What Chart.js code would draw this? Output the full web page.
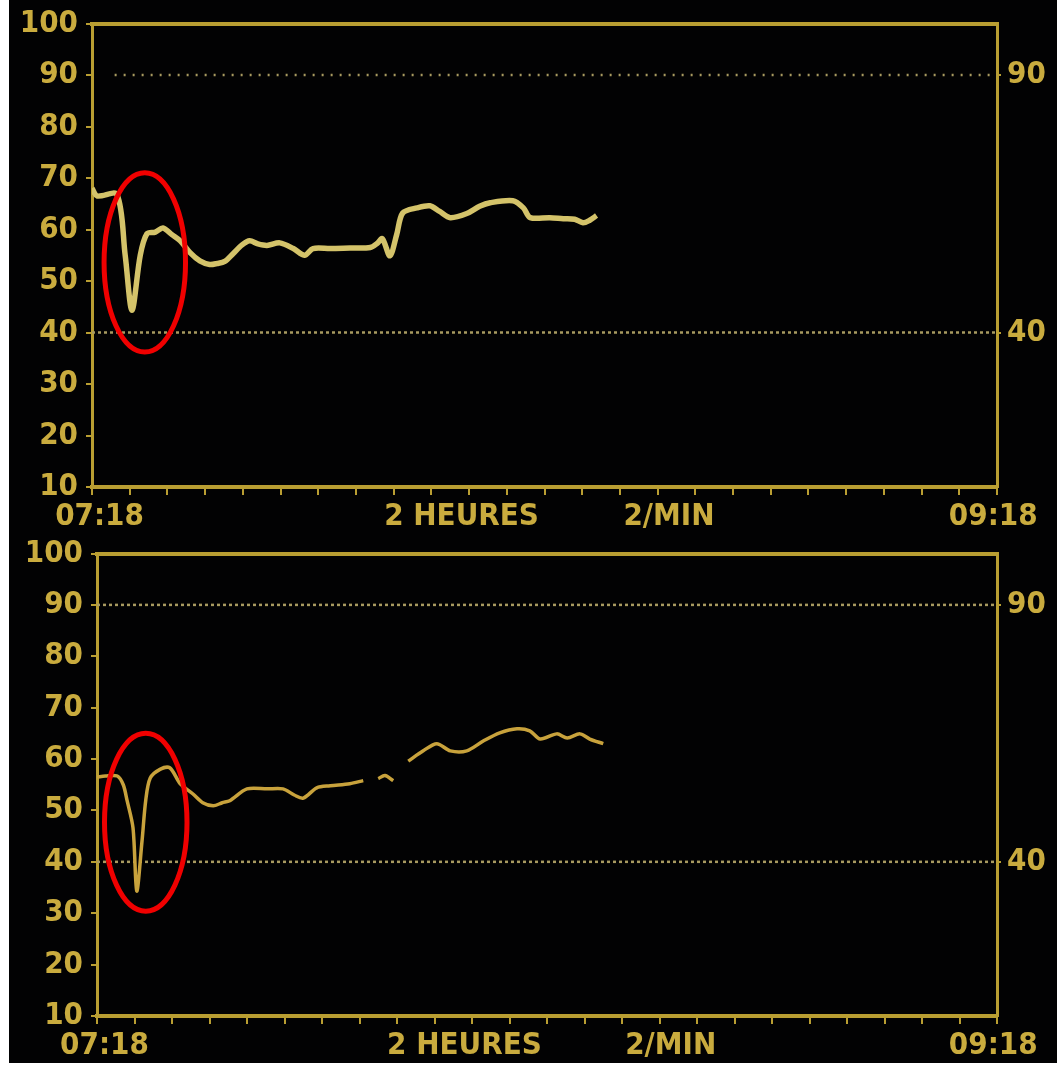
<!DOCTYPE html>
<html>
<head>
<meta charset="utf-8">
<title>Tendance SpO2</title>
<script src="https://cdn.jsdelivr.net/npm/chart.js@4.4.1/dist/chart.umd.min.js"></script>
<style>
  body { margin: 0; background: #fff; }
  #screen { position: absolute; left: 9px; top: 0; width: 1048px; height: 1063px; background: #020203; }
  .panel { position: absolute; left: 0; width: 1057px; }
  #top { top: 0; height: 540px; }
  #bottom { top: 530px; height: 537px; }
</style>
</head>
<body>
<div id="screen"></div>
<div class="panel" id="top"><canvas id="chart-top"></canvas></div>
<div class="panel" id="bottom"><canvas id="chart-bottom"></canvas></div>
<script>
// minutes since 07:18 (2 hour window)
const topMinutes = [0, 0.7, 3.3, 4.4, 5.3, 6.4, 7.3, 8.4, 9.4, 10.6, 11.7, 13.0, 14.3, 15.6, 16.6, 17.6, 18.7, 19.9, 20.9, 22.0, 23.2, 24.9, 26.7, 28.2, 29.3, 31.6, 34.2, 36.9, 37.8, 38.5, 39.5, 40.4, 41.2, 43.1, 44.8, 46.1, 47.5, 49.7, 51.4, 52.8, 55.8, 57.2, 58.1, 60.7, 62.5, 64.0, 65.1, 66.0, 66.9];
const topValues = [68, 66.5, 66.8, 55, 44.3, 55, 59.2, 59.5, 60.3, 59, 57.8, 55.5, 53.9, 53.2, 53.4, 53.8, 55.3, 57, 57.8, 57.2, 56.9, 57.4, 56.3, 55, 56.3, 56.3, 56.4, 56.5, 57.3, 58.2, 54.9, 59, 63.2, 64.2, 64.6, 63.5, 62.3, 63.1, 64.5, 65.2, 65.6, 64.2, 62.3, 62.3, 62.1, 62, 61.3, 61.8, 62.7];

const botMinutes = [0, 1.1, 2.7, 3.5, 4.0, 4.8, 5.3, 6.0, 6.5, 7.1, 8.4, 9.7, 11.1, 12.8, 14.1, 15.5, 16.7, 17.7, 20.0, 22.7, 24.8, 26.3, 27.5, 29.3, 31.1, 33.7, 35.5, 36.5, 37.5, 38.4, 39.5, 40.5, 41.5, 43.5, 45.3, 47.1, 49.3, 51.5, 53.7, 56.0, 57.7, 59.1, 61.3, 62.7, 64.4, 65.7, 67.5];
const botValues = [56.5, 56.7, 56.7, 55, 52, 46.6, 34.3, 44, 52, 56.3, 58, 58.3, 55.2, 53.2, 51.5, 50.9, 51.5, 51.9, 54.2, 54.2, 54.2, 53, 52.4, 54.4, 54.8, 55.2, 55.8, null, 56.2, 56.8, 55.8, null, 59.6, 61.6, 63, 61.6, 61.6, 63.5, 65.1, 65.9, 65.5, 63.9, 64.9, 64.1, 64.9, 63.9, 63];

// alarm limits
const alarmHigh = 90;
const alarmLow = 40;
const rightTicks = [90, 40];

// x axis labels
const xLabelAt = [1, 49, 76.5, 119.5];
const xLabelText = ['07:18', '2 HEURES', '2/MIN', '09:18'];

const yellow = '#b99e32';
const labelColor = '#c9ab3e';
const tickFont = { family: "'DejaVu Sans Condensed', 'DejaVu Sans', sans-serif", size: 31, weight: 'bold', lineHeight: 1 };

const ringPlugin = {
  id: 'ring',
  afterDatasetsDraw(chart, args, opts) {
    if (!opts || opts.cx === undefined) return;
    const { x, y } = chart.scales;
    const ctx = chart.ctx;
    const cx = x.getPixelForValue(opts.cx);
    const cy = y.getPixelForValue(opts.cy);
    const rx = Math.abs(x.getPixelForValue(opts.cx + opts.rx) - cx);
    const ry = Math.abs(y.getPixelForValue(opts.cy + opts.ry) - cy);
    ctx.save();
    ctx.beginPath();
    ctx.ellipse(cx, cy, rx, ry, 0, 0, Math.PI * 2);
    ctx.strokeStyle = '#f00000';
    ctx.lineWidth = 5;
    ctx.stroke();
    ctx.restore();
  }
};

function points(xs, ys) {
  return xs.map((m, i) => ({ x: m, y: ys[i] }));
}

function makePanel(id, box, trend, lineColor, lineWidth, highDash, highFrom, ring) {
  const datasets = [
    {
      data: points(trend[0], trend[1]),
      borderColor: lineColor,
      borderWidth: lineWidth,
      pointRadius: 0,
      tension: 0.3,
      spanGaps: false
    },
    {
      data: points([highFrom, 120], [alarmHigh, alarmHigh]),
      borderColor: '#a89a60',
      borderWidth: 2.5,
      borderDash: highDash,
      pointRadius: 0
    },
    {
      data: points([0, 120], [alarmLow, alarmLow]),
      borderColor: '#a89a60',
      borderWidth: 2.5,
      borderDash: [3, 3],
      pointRadius: 0
    }
  ];

  const config = {
    type: 'line',
    data: { datasets: datasets },
    plugins: [ringPlugin],
    options: {
      responsive: true,
      maintainAspectRatio: false,
      animation: false,
      layout: { padding: 0 },
      plugins: {
        legend: { display: false },
        tooltip: { enabled: false },
        ring: ring
      },
      scales: {
        x: {
          type: 'linear',
          position: 'bottom',
          min: 0,
          max: 120,
          afterBuildTicks: (scale) => {
            const t = [];
            for (let m = 0; m <= 120; m += 5) t.push({ value: m });
            xLabelAt.forEach(v => t.push({ value: v }));
            t.sort((a, b) => a.value - b.value);
            scale.ticks = t;
          },
          afterFit: (s) => { s.height = box.h - box.bottom; },
          ticks: {
            autoSkip: false,
            maxRotation: 0,
            padding: 6,
            color: labelColor,
            font: tickFont,
            callback: (v) => {
              const i = xLabelAt.indexOf(v);
              return i >= 0 ? xLabelText[i] : '';
            }
          },
          grid: {
            drawOnChartArea: false,
            tickLength: 8,
            lineWidth: 2,
            color: (c) => (c.tick && xLabelAt.includes(c.tick.value)) ? 'rgba(0,0,0,0)' : yellow
          },
          border: { color: yellow, width: 4 }
        },
        x2: {
          type: 'linear',
          position: 'top',
          min: 0,
          max: 120,
          afterFit: (s) => { s.height = box.top; },
          ticks: { display: false },
          grid: { display: false },
          border: { color: yellow, width: 4 }
        },
        y: {
          min: 10,
          max: 100,
          afterFit: (s) => { s.width = box.left; },
          ticks: { stepSize: 10, color: labelColor, font: tickFont, padding: 8 },
          grid: { drawOnChartArea: false, tickLength: 6, lineWidth: 2, color: yellow },
          border: { color: yellow, width: 3 }
        },
        y2: {
          position: 'right',
          min: 10,
          max: 100,
          afterBuildTicks: (scale) => {
            scale.ticks = rightTicks.map(v => ({ value: v }));
          },
          afterFit: (s) => { s.width = 1057 - box.right; },
          ticks: { color: labelColor, font: tickFont, padding: 6 },
          grid: { drawOnChartArea: false, tickLength: 4, lineWidth: 2, color: yellow },
          border: { color: yellow, width: 3 }
        }
      }
    }
  };

  const ctx = document.getElementById(id).getContext('2d');
  return new Chart(ctx, config);
}

window.topChart = makePanel(
  'chart-top',
  { left: 92, right: 997, top: 22, bottom: 487, h: 540 },
  [topMinutes, topValues],
  '#d4c36a', 5.5, [2, 7], 3,
  { cx: 7.0, cy: 53.6, rx: 5.4, ry: 17.4 }
);

window.bottomChart = makePanel(
  'chart-bottom',
  { left: 97, right: 997, top: 23, bottom: 486, h: 537 },
  [botMinutes, botValues],
  '#c8a23c', 3.5, [3, 3], 0,
  { cx: 6.5, cy: 47.7, rx: 5.5, ry: 17.3 }
);
</script>
</body>
</html>
